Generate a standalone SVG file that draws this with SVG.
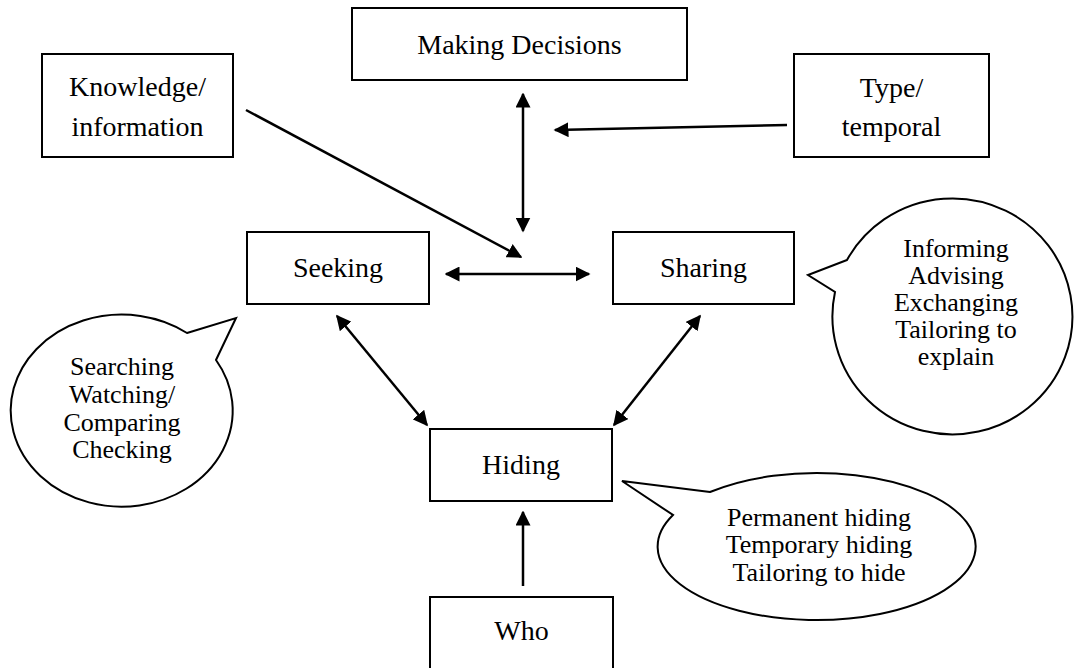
<svg xmlns="http://www.w3.org/2000/svg" width="1076" height="668" viewBox="0 0 1076 668">
<defs>
<style>
.box{fill:#fff;stroke:#000;stroke-width:2}
.bub{fill:#fff;stroke:#000;stroke-width:2;stroke-linejoin:miter}
.t{font-family:"Liberation Serif","Times New Roman",serif;font-size:28px;fill:#000;text-anchor:middle}
.bt{font-family:"Liberation Serif","Times New Roman",serif;font-size:26px;fill:#000;text-anchor:middle}
.ar{stroke:#000;stroke-width:2.5;fill:none}
</style>
<marker id="ah" viewBox="0 0 10 10" refX="9" refY="5" markerWidth="15" markerHeight="15" markerUnits="userSpaceOnUse" orient="auto-start-reverse">
<path d="M0,0 L10,5 L0,10 z" fill="#000"/>
</marker>
</defs>
<rect width="1076" height="668" fill="#fff"/>

<g id="connectors">
<line class="ar" x1="523" y1="94" x2="523" y2="231" marker-start="url(#ah)" marker-end="url(#ah)"/>
<line class="ar" x1="787" y1="125" x2="555" y2="130" marker-end="url(#ah)"/>
<line class="ar" x1="246" y1="110" x2="521" y2="257" marker-end="url(#ah)"/>
<line class="ar" x1="446" y1="274" x2="589" y2="274" marker-start="url(#ah)" marker-end="url(#ah)"/>
<line class="ar" x1="337" y1="316" x2="427" y2="425" marker-start="url(#ah)" marker-end="url(#ah)"/>
<line class="ar" x1="700" y1="316" x2="614" y2="425" marker-start="url(#ah)" marker-end="url(#ah)"/>
<line class="ar" x1="523" y1="586" x2="523" y2="512" marker-end="url(#ah)"/>
</g>

<g id="making-decisions">
<rect class="box" x="352" y="8" width="335" height="72"/>
<text class="t" x="519.5" y="54">Making Decisions</text>
</g>
<g id="knowledge">
<rect class="box" x="42" y="54" width="191" height="103"/>
<text class="t" x="137.5" y="96">Knowledge/</text>
<text class="t" x="137.5" y="136">information</text>
</g>
<g id="type-temporal">
<rect class="box" x="794" y="54" width="195" height="103"/>
<text class="t" x="891.5" y="97">Type/</text>
<text class="t" x="891.5" y="136">temporal</text>
</g>
<g id="seeking">
<rect class="box" x="247" y="232" width="182" height="72"/>
<text class="t" x="338" y="277">Seeking</text>
</g>
<g id="sharing">
<rect class="box" x="613" y="232" width="181" height="72"/>
<text class="t" x="703.5" y="277">Sharing</text>
</g>
<g id="hiding">
<rect class="box" x="430" y="429" width="182" height="72"/>
<text class="t" x="521" y="474">Hiding</text>
</g>
<g id="who">
<rect class="box" x="430" y="597" width="183" height="74"/>
<text class="t" x="521.5" y="640">Who</text>
</g>

<g id="seeking-callout">
<path class="bub" d="M187,333 L236,318 L216,360 A111,96 0 1 1 187,333 Z"/>
<text class="bt" x="122" y="375">Searching</text>
<text class="bt" x="122" y="403">Watching/</text>
<text class="bt" x="122" y="431">Comparing</text>
<text class="bt" x="122" y="458">Checking</text>
</g>
<g id="sharing-callout">
<path class="bub" d="M847,260 L808,275 L835,292 A120,118 0 1 0 847,260 Z"/>
<text class="bt" x="956" y="257">Informing</text>
<text class="bt" x="956" y="284">Advising</text>
<text class="bt" x="956" y="311">Exchanging</text>
<text class="bt" x="956" y="338">Tailoring to</text>
<text class="bt" x="956" y="365">explain</text>
</g>
<g id="hiding-callout">
<path class="bub" d="M710,492 L622,481 L673,515 A159,73.5 0 1 0 710,492 Z"/>
<text class="bt" x="819" y="526">Permanent hiding</text>
<text class="bt" x="819" y="553">Temporary hiding</text>
<text class="bt" x="819" y="581">Tailoring to hide</text>
</g>
</svg>
